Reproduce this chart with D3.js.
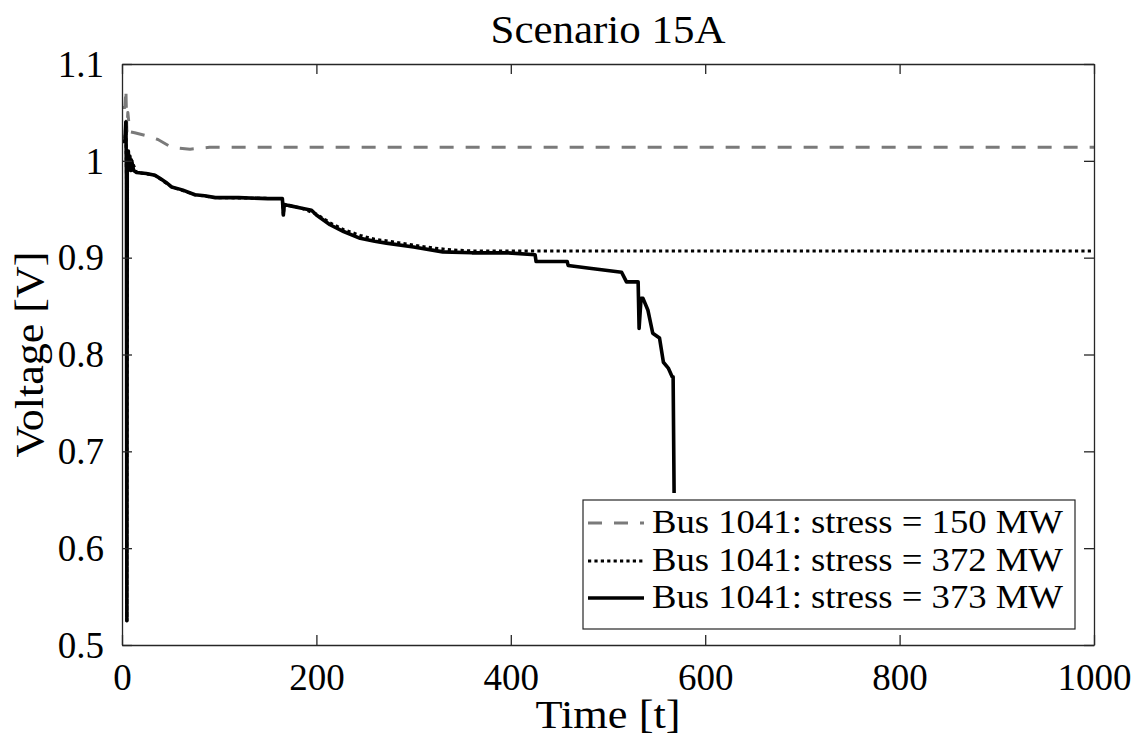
<!DOCTYPE html>
<html>
<head>
<meta charset="utf-8">
<script src="https://cdn.jsdelivr.net/npm/d3@7"></script>
<style>
  html, body { margin: 0; padding: 0; background: #fff; }
  svg { display: block; }
  text { font-family: "Liberation Serif", "DejaVu Serif", serif; fill: #000; }
</style>
</head>
<body>
<svg id="chart" width="1132" height="746"></svg>
<script>
// ---- data ----
const chartTitle = "Scenario 15A";
const xLabel = "Time [t]";
const yLabel = "Voltage [V]";
const xTicks = [0, 200, 400, 600, 800, 1000];
const xTickLabels = ["0", "200", "400", "600", "800", "1000"];
const yTicks = [0.5, 0.6, 0.7, 0.8, 0.9, 1.0, 1.1];
const yTickLabels = ["0.5", "0.6", "0.7", "0.8", "0.9", "1", "1.1"];
const seriesNames = ["Bus 1041: stress = 150 MW", "Bus 1041: stress = 372 MW", "Bus 1041: stress = 373 MW"];

// stress = 150 MW (dashed grey)
const t150 = [0, 3, 4, 5, 6, 8, 13, 25, 37, 51, 70, 90, 1000];
const v150 = [1.055, 1.055, 1.074, 1.03, 1.05, 1.03, 1.029, 1.026, 1.022, 1.014, 1.012, 1.014, 1.014];

// stress = 372 MW (dotted black)
const t372 = [0, 3, 4, 4.6, 5, 5.4, 6, 7, 8, 10, 15, 34, 51, 75, 96, 165, 166, 167, 185, 200, 214, 228, 245, 260, 275, 300, 320, 340, 360, 1000];
const v372 = [1.02, 1.02, 1.04, 0.98, 0.525, 0.99, 1.0, 0.995, 1.005, 1.0, 0.988, 0.985, 0.973, 0.965, 0.962, 0.961, 0.944, 0.955, 0.951, 0.945, 0.936, 0.929, 0.923, 0.919, 0.917, 0.913, 0.910, 0.908, 0.907, 0.907];

// stress = 373 MW (solid black)
const t373 = [0, 3, 4, 4.6, 5, 5.4, 6, 6.5, 7, 8, 9, 10, 12, 15, 25, 34, 39, 45, 51, 62, 75, 85, 96, 120, 150, 165, 166, 167, 171, 185, 195, 200, 214, 228, 245, 260, 272, 300, 330, 360, 396, 425, 426, 458, 459, 481, 514, 519, 531, 532, 534, 536, 541, 546, 553, 557, 562, 566, 567, 568];
const v373 = [1.02, 1.02, 1.04, 0.98, 0.525, 0.99, 1.0, 1.01, 0.995, 1.005, 0.99, 1.0, 0.99, 0.988, 0.987, 0.985, 0.982, 0.978, 0.973, 0.970, 0.965, 0.964, 0.962, 0.962, 0.961, 0.961, 0.944, 0.955, 0.954, 0.951, 0.949, 0.944, 0.934, 0.927, 0.920, 0.917, 0.915, 0.911, 0.906, 0.905, 0.905, 0.903, 0.896, 0.896, 0.892, 0.889, 0.885, 0.875, 0.875, 0.827, 0.858, 0.858, 0.846, 0.822, 0.817, 0.792, 0.786, 0.777, 0.777, 0.657];

// ---- layout ----
const L = 122, R = 1094, T = 64, B = 645;
const axisColor = "#262626";
const svg = d3.select("#chart");

const x = d3.scaleLinear().domain([0, 1000]).range([L, R]);
const y = d3.scaleLinear().domain([0.5, 1.1]).range([B, T]);

// clip
svg.append("defs").append("clipPath").attr("id", "plotclip")
  .append("rect").attr("x", L).attr("y", T).attr("width", R - L).attr("height", B - T);

// series
const styles = [
  { t: t150, v: v150, color: "#7a7a7a", width: 3, dash: "14,12" },
  { t: t372, v: v372, color: "#000", width: 3, dash: "3.2,3.2" },
  { t: t373, v: v373, color: "#000", width: 3.6, dash: null }
];
const line = d3.line().x(d => x(d[0])).y(d => y(d[1]));
const g = svg.append("g").attr("clip-path", "url(#plotclip)");
styles.forEach(s => {
  const pts = s.t.map((tt, i) => [tt, s.v[i]]);
  g.append("path").datum(pts)
    .attr("d", line)
    .attr("fill", "none")
    .attr("stroke", s.color)
    .attr("stroke-width", s.width)
    .attr("stroke-linejoin", "round")
    .attr("stroke-dasharray", s.dash);
});

// axes (ticks inward, box)
function styleAxis(sel) {
  sel.selectAll("path.domain").attr("stroke", axisColor).attr("stroke-width", 1.3);
  sel.selectAll(".tick line").attr("stroke", axisColor).attr("stroke-width", 1.3);
}
const xAxis = svg.append("g").attr("transform", `translate(0,${B})`)
  .call(d3.axisBottom(x).tickValues(xTicks).tickFormat((d, i) => xTickLabels[i]).tickSize(-10).tickSizeOuter(0));
xAxis.selectAll(".tick text").attr("y", 45).attr("dy", null)
  .attr("font-size", 37).attr("font-family", "Liberation Serif").attr("fill", "#000");
styleAxis(xAxis);

const xTop = svg.append("g").attr("transform", `translate(0,${T})`)
  .call(d3.axisTop(x).tickValues(xTicks).tickFormat("").tickSize(-10).tickSizeOuter(0));
styleAxis(xTop);

const yAxis = svg.append("g").attr("transform", `translate(${L},0)`)
  .call(d3.axisLeft(y).tickValues(yTicks).tickFormat((d, i) => yTickLabels[i]).tickSize(-10).tickSizeOuter(0));
yAxis.selectAll(".tick text").attr("x", -18).attr("dy", "0.33em")
  .attr("font-size", 37).attr("font-family", "Liberation Serif").attr("fill", "#000");
styleAxis(yAxis);

const yRight = svg.append("g").attr("transform", `translate(${R},0)`)
  .call(d3.axisRight(y).tickValues(yTicks).tickFormat("").tickSize(-10).tickSizeOuter(0));
styleAxis(yRight);

// titles
svg.append("text").attr("x", (L + R) / 2).attr("y", 43).attr("text-anchor", "middle")
  .attr("font-size", 40).attr("textLength", 235).attr("lengthAdjust", "spacingAndGlyphs").text(chartTitle);
svg.append("text").attr("x", (L + R) / 2).attr("y", 728).attr("text-anchor", "middle")
  .attr("font-size", 40).attr("textLength", 145).attr("lengthAdjust", "spacingAndGlyphs").text(xLabel);
svg.append("text").attr("transform", `translate(43,${(T + B) / 2}) rotate(-90)`).attr("text-anchor", "middle")
  .attr("font-size", 40).attr("textLength", 206).attr("lengthAdjust", "spacingAndGlyphs").text(yLabel);

// legend
const lg = svg.append("g");
lg.append("rect").attr("x", 583).attr("y", 500).attr("width", 492).attr("height", 129)
  .attr("fill", "#fff").attr("stroke", axisColor).attr("stroke-width", 1.2);
const rowBase = [533, 571, 608];
styles.forEach((s, i) => {
  lg.append("line").attr("x1", 588).attr("x2", 644)
    .attr("y1", rowBase[i] - 10).attr("y2", rowBase[i] - 10)
    .attr("stroke", s.color).attr("stroke-width", s.width)
    .attr("stroke-dasharray", s.dash);
  lg.append("text").attr("x", 652).attr("y", rowBase[i])
    .attr("font-size", 33).attr("textLength", 411).attr("lengthAdjust", "spacingAndGlyphs")
    .text(seriesNames[i]);
});
</script>
</body>
</html>
